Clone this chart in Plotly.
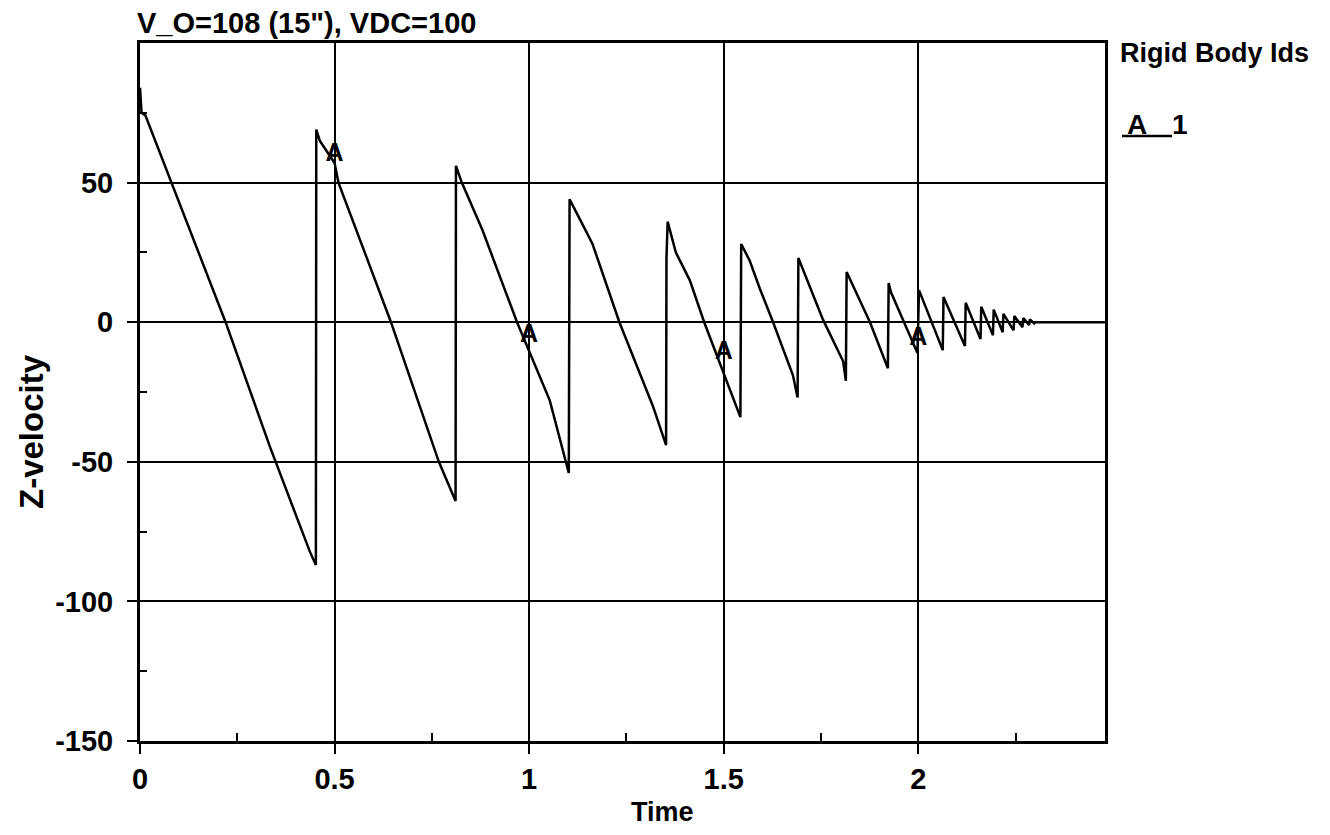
import plotly.graph_objects as go

# Z-velocity history of rigid body 1 (bouncing, damped)
time = [
    0.000, 0.004, 0.014, 0.220, 0.335, 0.436, 0.452,
    0.453, 0.462, 0.500, 0.510, 0.645, 0.768, 0.811,
    0.812, 0.827, 0.880, 0.969, 1.053, 1.102,
    1.104, 1.120, 1.130, 1.163, 1.232, 1.318, 1.352,
    1.353, 1.356, 1.377, 1.413, 1.450, 1.511, 1.543,
    1.545, 1.567, 1.593, 1.627, 1.678, 1.690,
    1.692, 1.712, 1.755, 1.807, 1.814,
    1.816, 1.850, 1.876, 1.922,
    1.924, 1.930, 1.961, 1.998,
    2.002, 2.063, 2.065, 2.120, 2.122, 2.160, 2.162, 2.192, 2.194, 2.217,
    2.219, 2.245, 2.247, 2.268, 2.270, 2.285, 2.287, 2.298, 2.300, 2.480,
]
z_velocity = [
    84, 75, 74, 0, -45, -82, -87,
    69, 65, 57, 50, 0, -50, -64,
    56, 50, 33, 0, -28, -54,
    44, 40, 37, 28, 0, -30, -44,
    23, 36, 25, 15, 0, -22, -34,
    28, 22, 12, 0, -19, -27,
    23, 16, 1, -14, -21,
    18, 8, 0, -16.5,
    14, 10.7, 1, -11,
    11.5, -10, 9, -8.5, 7, -6, 5.5, -4.7, 4.5, -3.6,
    3, -2.9, 2.2, -1.8, 1.5, -1, 1, -0.4, 0, 0,
]

# Series symbol labels placed along the curve
label_time = [0.5, 1.0, 1.5, 2.0]
label_velocity = [60, -5, -11, -6]

x_ticks = [0, 0.5, 1, 1.5, 2]
x_tick_text = ["0", "0.5", "1", "1.5", "2"]
y_ticks = [-150, -100, -50, 0, 50]
y_tick_text = ["-150", "-100", "-50", "0", "50"]

title_text = 'V_O=108 (15"), VDC=100'
x_title = "Time"
y_title = "Z-velocity"
legend_title = "Rigid Body Ids"
series_symbol = "A"
series_id = "1"

FONT = "Liberation Sans, Arial, Helvetica, sans-serif"

# Page geometry (pixels)
W, H = 1330, 835
L, R, T, B = 140, 225, 43, 94
PW, PH = W - L - R, H - T - B


def px_x(p):
    return (p - L) / PW


def px_y(p):
    return (H - B - p) / PH


fig = go.Figure()

fig.add_trace(go.Scatter(
    x=time, y=z_velocity, mode="lines",
    line=dict(color="black", width=2.5),
    hoverinfo="skip", showlegend=False,
))

fig.add_trace(go.Scatter(
    x=label_time, y=label_velocity, mode="text",
    text=[series_symbol] * len(label_time),
    textfont=dict(family=FONT, size=25, color="black", weight="bold"),
    textposition="middle center",
    hoverinfo="skip", showlegend=False,
))

axis_common = dict(
    showline=True, linecolor="black", linewidth=3, mirror=True,
    showgrid=True, gridcolor="black", gridwidth=2,
    zeroline=False,
    ticks="outside", ticklen=10, tickwidth=2, tickcolor="black",
    tickfont=dict(family=FONT, size=29, color="black", weight="bold"),
)

fig.update_xaxes(
    range=[0, 2.48], tickmode="array", tickvals=x_ticks, ticktext=x_tick_text,
    ticklabelstandoff=0,
    minor=dict(tickvals=[0.25, 0.75, 1.25, 1.75, 2.25], ticks="inside",
               ticklen=8, tickwidth=2, tickcolor="black", showgrid=False),
    **axis_common,
)
fig.update_yaxes(
    range=[-150, 100], tickmode="array", tickvals=y_ticks, ticktext=y_tick_text,
    ticklabelstandoff=8,
    minor=dict(tickvals=[-125, -75, -25, 25, 75], ticks="inside",
               ticklen=7, tickwidth=2, tickcolor="black", showgrid=False),
    **axis_common,
)

annotations = [
    dict(text=title_text, x=px_x(135), y=px_y(23), xanchor="left", yanchor="middle",
         font=dict(family=FONT, size=29, color="black", weight="bold")),
    dict(text=x_title, x=px_x(662), y=px_y(812), xanchor="center", yanchor="middle",
         font=dict(family=FONT, size=27, color="black", weight="bold")),
    dict(text=y_title, x=px_x(31), y=px_y(432), xanchor="center", yanchor="middle",
         textangle=-90,
         font=dict(family=FONT, size=33, color="black", weight="bold")),
    dict(text=legend_title, x=px_x(1118), y=px_y(53), xanchor="left", yanchor="middle",
         font=dict(family=FONT, size=27, color="black", weight="bold")),
    dict(text=series_symbol, x=px_x(1137), y=px_y(124), xanchor="center", yanchor="middle",
         font=dict(family=FONT, size=28, color="black", weight="bold")),
    dict(text=series_id, x=px_x(1180), y=px_y(124), xanchor="center", yanchor="middle",
         font=dict(family=FONT, size=28, color="black", weight="bold")),
]
for a in annotations:
    a.update(xref="paper", yref="paper", showarrow=False)

# Legend line sample under the series symbol
shapes = [dict(type="line", xref="paper", yref="paper",
               x0=px_x(1122), x1=px_x(1172), y0=px_y(136), y1=px_y(136),
               line=dict(color="black", width=2.5))]

fig.update_layout(
    width=W, height=H,
    margin=dict(l=L, r=R, t=T, b=B, autoexpand=False),
    paper_bgcolor="white", plot_bgcolor="white",
    annotations=annotations, shapes=shapes,
    showlegend=False,
)

fig.write_html("out.html")
